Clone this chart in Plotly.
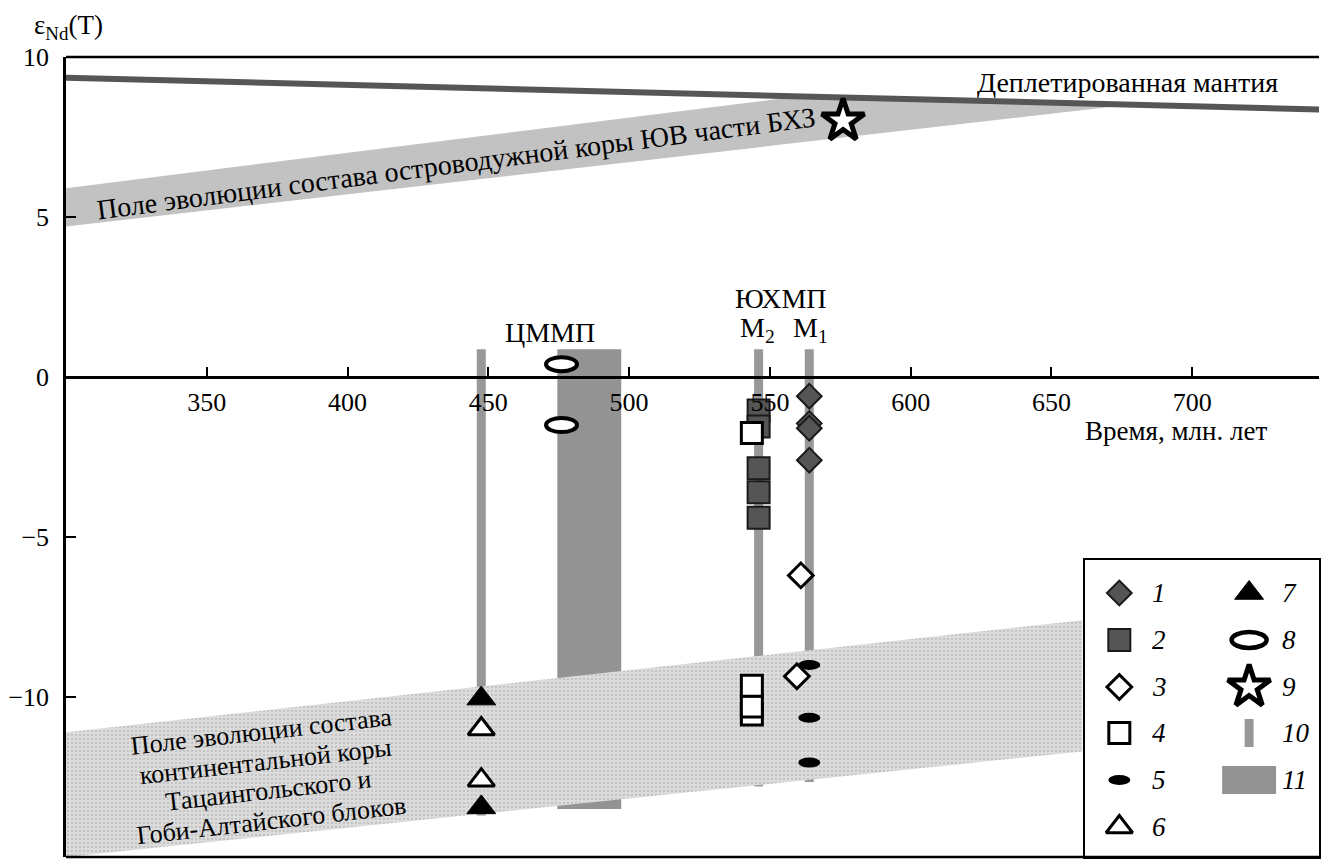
import numpy as np
import plotly.graph_objects as go

SERIF = "Liberation Serif"

# ---- data -------------------------------------------------------------
# depleted mantle evolution line
dm_age = [300, 750]
dm_eps = [9.35, 8.35]

# island-arc crust field (polygon)
arc_age = [300, 560, 677, 300]
arc_eps = [5.9, 8.77, 8.5, 4.7]

# continental crust field (polygon)
cc_age = [300, 661, 661, 300]
cc_eps = [-11.1, -7.6, -11.7, -15.0]

# 10: age ranges of the individual complexes (thin bars)
thin_age = [447.5, 546.0, 564.0]
thin_top = [0.87, 0.87, 0.87]
thin_bot = [-13.7, -12.8, -12.66]

# 11: age range of the central block (wide bar)
wide_lo, wide_hi = 474.5, 497.2
wide_top, wide_bot = 0.87, -13.5

# point groups 1..9
p1_age = [564, 564, 564, 564]
p1_eps = [-0.6, -1.45, -1.6, -2.6]
p2_age = [546, 546, 546, 546, 546]
p2_eps = [-1.05, -1.55, -2.85, -3.6, -4.4]
p3_age = [561.0, 559.6]
p3_eps = [-6.2, -9.35]
p4_age = [543.6, 543.6, 543.6, 543.6]
p4_eps = [-1.75, -10.55, -10.3, -9.65]
p5_age = [564, 564, 564]
p5_eps = [-9.0, -10.65, -12.05]
p6_age = [447.5, 447.5]
p6_eps = [-11.0, -12.6]
p7_age = [447.5, 447.5]
p7_eps = [-10.05, -13.45]
p8_age = [476, 476]
p8_eps = [0.4, -1.5]
p9_age = [576]
p9_eps = [8.0]

x_ticks = [350, 400, 450, 500, 550, 600, 650, 700]
y_ticks = [10, 5, 0, -5, -10, -15]

# ---- styles -----------------------------------------------------------
BAR = "#989898"
WIDE = "#939393"
S1 = dict(symbol="diamond", size=19, color="#555555", line=dict(color="#1a1a1a", width=2))
S2 = dict(symbol="square", size=22, color="#555555", line=dict(color="#1a1a1a", width=2))
S3 = dict(symbol="diamond", size=19, color="white", line=dict(color="black", width=3))
S4 = dict(symbol="square", size=21, color="white", line=dict(color="black", width=3))
S6 = dict(symbol="triangle-up", size=23, color="white", line=dict(color="black", width=3))
S7 = dict(symbol="triangle-up", size=25, color="black", line=dict(color="black", width=1))
S9 = dict(symbol="star", size=32, color="white", line=dict(color="black", width=5))
E5 = dict(w=22, h=10, fill="black", lw=0)
E8 = dict(w=31, h=14, fill="white", lw=4)

fig = go.Figure()


def pts(x, y, marker, xa="x", ya="y"):
    fig.add_trace(go.Scatter(x=x, y=y, mode="markers", marker=marker,
                             xaxis=xa, yaxis=ya, showlegend=False, hoverinfo="skip"))


# fields
fig.add_trace(go.Scatter(x=arc_age, y=arc_eps, fill="toself", fillcolor="#c2c2c2",
                         mode="lines", line=dict(width=0), showlegend=False, hoverinfo="skip"))
fig.add_trace(go.Scatter(x=cc_age, y=cc_eps, fill="toself", fillcolor="#dcdcdc",
                         fillpattern=dict(shape=".", fgcolor="#a6a6a6", bgcolor="#dcdcdc",
                                          size=4, solidity=0.25),
                         mode="lines", line=dict(width=0), showlegend=False, hoverinfo="skip"))
fig.add_trace(go.Scatter(x=dm_age, y=dm_eps, mode="lines", line=dict(color="#565656", width=6),
                         showlegend=False, hoverinfo="skip"))

# bars
fig.add_trace(go.Bar(x=thin_age, y=np.array(thin_top) - np.array(thin_bot), base=thin_bot,
                     width=3.2, marker=dict(color=BAR, line=dict(width=0)),
                     showlegend=False, hoverinfo="skip"))
fig.add_trace(go.Bar(x=[(wide_lo + wide_hi) / 2], y=[wide_top - wide_bot], base=[wide_bot],
                     width=wide_hi - wide_lo, marker=dict(color=WIDE, line=dict(width=0)),
                     showlegend=False, hoverinfo="skip"))

# points
pts(p2_age, p2_eps, S2)
pts(p1_age, p1_eps, S1)
pts(p3_age, p3_eps, S3)
pts(p4_age, p4_eps, S4)
pts(p6_age, p6_eps, S6)
pts(p7_age, p7_eps, S7)
pts(p9_age, p9_eps, S9)

shapes = []


def ellipse(x, y, st, xref="x", yref="y"):
    shapes.append(dict(type="circle", xref=xref, yref=yref, xsizemode="pixel", ysizemode="pixel",
                       xanchor=x, yanchor=y, x0=-st["w"] / 2, x1=st["w"] / 2,
                       y0=-st["h"] / 2, y1=st["h"] / 2, fillcolor=st["fill"],
                       line=dict(color="black", width=st["lw"]), layer="above"))


for a, e in zip(p5_age, p5_eps):
    ellipse(a, e, E5)
for a, e in zip(p8_age, p8_eps):
    ellipse(a, e, E8)

# plot frame: top and bottom edges
shapes.append(dict(type="line", xref="paper", yref="paper", x0=0, x1=1, y0=1, y1=1,
                   line=dict(color="black", width=2.5), layer="above"))
shapes.append(dict(type="line", xref="paper", yref="paper", x0=0, x1=1, y0=0, y1=0,
                   line=dict(color="black", width=2.5), layer="above"))

# ---- legend box (inset axes in pixel units) ----------------------------
col_x = [34, 164]
row_y = [33, 80, 127, 173, 220, 267]
pts([col_x[0]], [row_y[0]], S1, "x2", "y2")
pts([col_x[0]], [row_y[1]], S2, "x2", "y2")
pts([col_x[0]], [row_y[2]], S3, "x2", "y2")
pts([col_x[0]], [row_y[3]], S4, "x2", "y2")
ellipse(col_x[0], row_y[4], E5, "x2", "y2")
pts([col_x[0]], [row_y[5]], S6, "x2", "y2")
pts([col_x[1]], [row_y[0]], S7, "x2", "y2")
ellipse(col_x[1], row_y[1], dict(w=35, h=16, fill="white", lw=4.5), "x2", "y2")
pts([col_x[1]], [row_y[2]], S9, "x2", "y2")
shapes.append(dict(type="rect", xref="x2", yref="y2", x0=col_x[1] - 4.5, x1=col_x[1] + 4.5,
                   y0=row_y[3] - 14, y1=row_y[3] + 14, fillcolor=BAR, line=dict(width=0)))
shapes.append(dict(type="rect", xref="x2", yref="y2", x0=col_x[1] - 27, x1=col_x[1] + 27,
                   y0=row_y[4] - 14, y1=row_y[4] + 14, fillcolor=WIDE, line=dict(width=0)))

annotations = []
leg_font = dict(family=SERIF, size=27, color="black", style="italic")
for i, (c, r) in enumerate([(0, 0), (0, 1), (0, 2), (0, 3), (0, 4), (0, 5),
                            (1, 0), (1, 1), (1, 2), (1, 3), (1, 4)]):
    annotations.append(dict(x=col_x[c] + 31, y=row_y[r], xref="x2", yref="y2", text=str(i + 1),
                            showarrow=False, xanchor="left", yanchor="middle", font=leg_font))

# ---- text labels --------------------------------------------------------
lab_font = dict(family=SERIF, size=28, color="black")
cc_font = dict(family=SERIF, size=26, color="black")
annotations += [
    dict(x=-0.027, y=1.0375, xref="paper", yref="paper", text="ε<sub>Nd</sub>(T)",
         showarrow=False, xanchor="left", yanchor="middle",
         font=dict(family=SERIF, size=27, color="black")),
    dict(x=694.3, y=-1.7, text="Время, млн. лет", showarrow=False,
         font=dict(family=SERIF, size=27, color="black")),
    dict(x=676.9, y=9.2, text="Деплетированная мантия", showarrow=False, font=lab_font),
    dict(x=472, y=1.4, text="ЦММП", showarrow=False, font=lab_font),
    dict(x=553.9, y=2.45, text="ЮХМП", showarrow=False, font=lab_font),
    dict(x=545.5, y=1.5, text="M<sub>2</sub>", showarrow=False, font=lab_font),
    dict(x=564.5, y=1.5, text="M<sub>1</sub>", showarrow=False, font=lab_font),
    dict(x=438.5, y=6.68, text="Поле эволюции состава островодужной коры ЮВ части БХЗ",
         showarrow=False, textangle=-7.4, font=lab_font),
]
cc_lines = ["Поле эволюции состава", "континентальной коры",
            "Тацаингольского и", "Гоби-Алтайского блоков"]
th = np.deg2rad(6.5)
for k, line in enumerate(cc_lines):
    off = (k - 1.5) * 30
    annotations.append(dict(x=371.3, y=-12.47, text=line, showarrow=False, textangle=-6.5,
                            xshift=np.sin(th) * off, yshift=-np.cos(th) * off, font=cc_font))

fig.update_layout(
    width=1321, height=866,
    margin=dict(l=66, r=0, t=57, b=9),
    paper_bgcolor="white", plot_bgcolor="white",
    barmode="overlay", showlegend=False,
    font=dict(family=SERIF, size=25, color="black"),
    xaxis=dict(range=[300, 300 + 1255 / 2.82], anchor="free", position=0.6,
               tickvals=x_ticks, ticks="inside", ticklen=9, tickwidth=2, tickcolor="black",
               showline=True, linewidth=2.5, linecolor="black", showgrid=False, zeroline=False,
               ticklabelstandoff=1, tickfont=dict(family=SERIF, size=26)),
    yaxis=dict(range=[-15, 10], tickvals=y_ticks, ticks="inside", ticklen=10, tickwidth=2,
               tickcolor="black", showline=True, linewidth=2.5, linecolor="black",
               showgrid=False, zeroline=False, ticklabelstandoff=9,
               tickfont=dict(family=SERIF, size=26)),
    xaxis2=dict(domain=[(1087 - 66) / 1255, 1], range=[0, 234], anchor="y2",
                showline=True, mirror=True, linewidth=2, linecolor="black",
                showgrid=False, zeroline=False, showticklabels=False, ticks=""),
    yaxis2=dict(domain=[0, (857 - 560) / 800], range=[297, 0], anchor="x2",
                showline=True, mirror=True, linewidth=2, linecolor="black",
                showgrid=False, zeroline=False, showticklabels=False, ticks=""),
    shapes=shapes,
    annotations=annotations,
)

fig.write_html("out.html")
